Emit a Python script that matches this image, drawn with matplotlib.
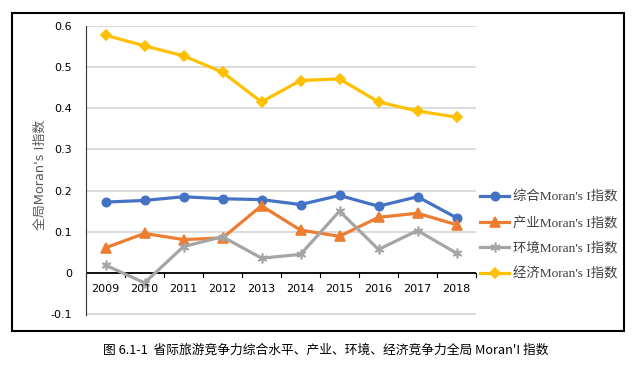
import matplotlib.pyplot as plt
from matplotlib.patches import Rectangle

years = ["2009", "2010", "2011", "2012", "2013", "2014", "2015", "2016", "2017", "2018"]
zonghe = [0.172, 0.176, 0.185, 0.180, 0.178, 0.166, 0.188, 0.162, 0.185, 0.134]
chanye = [0.061, 0.096, 0.081, 0.085, 0.163, 0.104, 0.089, 0.135, 0.145, 0.117]
huanjing = [0.019, -0.024, 0.064, 0.088, 0.036, 0.045, 0.150, 0.057, 0.103, 0.048]
jingji = [0.577, 0.551, 0.527, 0.487, 0.415, 0.467, 0.471, 0.415, 0.393, 0.378]
labels = ["综合Moran's I指数", "产业Moran's I指数", "环境Moran's I指数", "经济Moran's I指数"]
yticks = [-0.1, 0, 0.1, 0.2, 0.3, 0.4, 0.5, 0.6]

plt.rcParams['font.family'] = ['DejaVu Sans', 'Noto Sans CJK SC']
fig = plt.figure(figsize=(6.4, 3.66), dpi=100)
ax = fig.add_axes([86 / 640, 1 - 315 / 366, 390 / 640, 289.3 / 366])

x = list(range(len(years)))
series = [
    (zonghe, "#4472C4", "o", 6),
    (chanye, "#ED7D31", "^", 6.5),
    (huanjing, "#A5A5A5", (6, 2, 0), 7),
    (jingji, "#FFC000", "D", 5.5),
]
handles = []
for (vals, col, mk, ms), lab in zip(series, labels):
    ln, = ax.plot(x, vals, color=col, lw=2.3, marker=mk, ms=ms,
                  mec=col, mfc=col, mew=1.2, label=lab, zorder=3)
    handles.append(ln)

ax.set_xlim(-0.5, len(years) - 0.5)
ax.set_ylim(-0.102, 0.6)
ax.set_yticks(yticks)
ax.set_yticklabels(["-0.1", "0", "0.1", "0.2", "0.3", "0.4", "0.5", "0.6"], fontsize=8)
ax.grid(axis='y', color='#D9D9D9', lw=1.3, zorder=0)
ax.axhline(-0.1, color='#D9D9D9', lw=1.3, zorder=0)
ax.set_axisbelow(True)
ax.axhline(0, color='black', lw=1.3, zorder=2)
for s in ['top', 'right', 'bottom']:
    ax.spines[s].set_visible(False)
ax.spines['left'].set_color('#333333')
ax.spines['left'].set_linewidth(0.8)
ax.tick_params(axis='y', length=0, pad=10)
ax.set_xticks([])

# category labels and boundary ticks on the zero line
for i, yr in enumerate(years):
    ax.text(i, -0.04, yr, ha='center', va='center', fontsize=8)
for i in range(len(years) + 1):
    ax.plot([i - 0.5, i - 0.5], [0, -0.01], color='black', lw=0.8, clip_on=False)

fig.text(40 / 640, 1 - 175 / 366, "全局Moran's I指数", rotation=90, ha='center',
         va='center', fontsize=9.3, color='#595959')

leg = fig.legend(handles=handles, labels=labels, loc='upper left',
                 bbox_to_anchor=(476 / 640, 1 - 187 / 366), frameon=False,
                 handlelength=2.2, labelspacing=0.95, handletextpad=0.3,
                 borderaxespad=0, borderpad=0.3,
                 prop={'family': ['Liberation Serif', 'Noto Sans CJK SC'], 'size': 9.6})
for t in leg.get_texts():
    t.set_color('#404040')

fig.patches.append(Rectangle((12 / 640, 1 - 331 / 366), 612 / 640, 318 / 366,
                             transform=fig.transFigure, fill=False,
                             edgecolor='black', lw=1.5))

fig.text(326 / 640, 1 - 350 / 366,
         "图 6.1-1  省际旅游竞争力综合水平、产业、环境、经济竞争力全局 Moran'I 指数",
         ha='center', va='center', fontsize=9.2,
         family=['Noto Sans CJK SC', 'DejaVu Sans'])

fig.savefig("out.png", dpi=100)
